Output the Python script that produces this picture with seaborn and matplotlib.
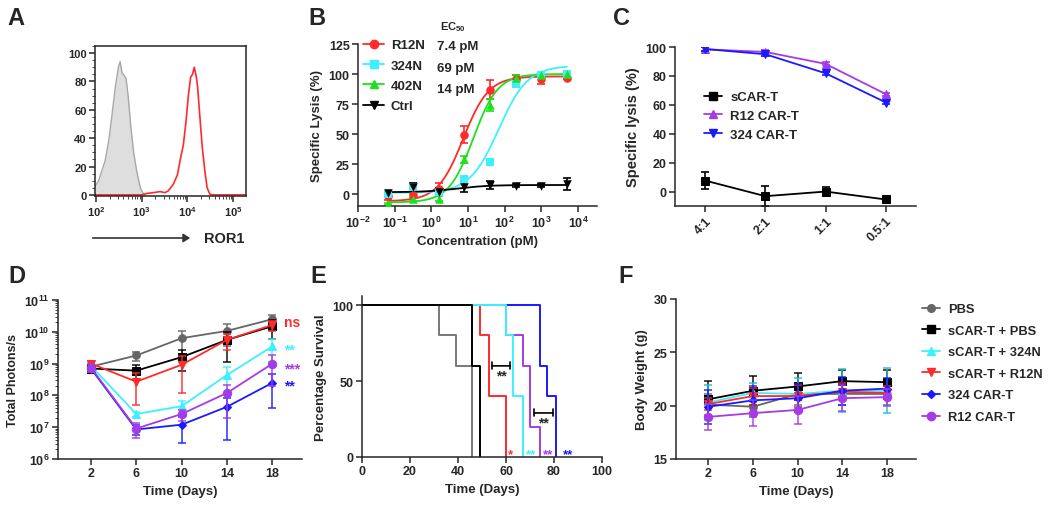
import numpy as np
import pandas as pd
import matplotlib
matplotlib.use('Agg')
import matplotlib.pyplot as plt
import seaborn as sns
from matplotlib.lines import Line2D
from matplotlib.ticker import FuncFormatter, LogLocator, NullFormatter, MultipleLocator

# ---------------- data ----------------
# A: flow histogram (log10 intensity, % of max)
iso_log = [1.98, 2.0, 2.06, 2.13, 2.2, 2.28, 2.35, 2.42, 2.49, 2.53, 2.57, 2.6, 2.66,
           2.71, 2.76, 2.82, 2.89, 2.97, 3.04, 3.08]
iso_pct = [6, 7, 10, 17, 24, 38, 56, 75, 90, 94, 86, 85, 82, 68, 49, 31, 17, 5, 0.5, 0]
ror_log = [1.98, 3.0, 3.11, 3.26, 3.4, 3.51, 3.58, 3.69, 3.78, 3.85, 3.91, 3.97, 4.02,
           4.07, 4.11, 4.15, 4.19, 4.22, 4.27, 4.32, 4.38, 4.43, 4.49, 4.55, 5.28]
ror_pct = [0, 0, 1, 1.6, 2.3, 1.6, 2.8, 7.4, 14, 26, 35, 52, 70, 83, 85, 90, 84, 77,
           56, 35, 17, 5, 0.5, 0, 0]

# B: specific lysis vs concentration
conc = [0.064, 0.32, 1.6, 8, 40, 200, 1000, 5000]
b_names = ['R12N', '324N', '402N', 'Ctrl']
b_ec50_txt = ['7.4 pM', '69 pM', '14 pM', '']
b_vals = [[-2, -1, 4, 49.5, 87, 96, 95.5, 97],
          [0, 6, 2, 12.7, 26.5, 92, 99.5, 100],
          [-8.5, -4.5, -4, 29, 74, 97, 99, 100],
          [1, 6, 2, 6, 7.5, 7, 7, 8.5]]
b_err = [[3, 2, 5, 7, 8, 3, 4, 1],
         [2, 3, 2, 2, 2, 2, 1, 1],
         [1, 1, 2, 3, 5, 2, 1, 1],
         [1, 3, 3, 4, 3, 1, 1, 5]]
# 4PL fit parameters: bottom, top, EC50, hill
b_fit = [(-6, 98, 7.4, 1.25), (1, 107, 69, 1.1), (-7, 100, 14, 1.3), (1.5, 7.5, 5, 1.0)]

# C: lysis vs E:T ratio
ratios = ['4:1', '2:1', '1:1', '0.5:1']
c_names = ['sCAR-T', 'R12 CAR-T', '324 CAR-T']
c_vals = [[7.6, -3.2, 0, -5.5], [98.4, 96.6, 88.3, 67.4], [98.6, 95, 81.8, 61.6]]
c_err = [[5.8, 7, 3, 1], [1.5, 1, 1, 1], [1.5, 1, 1, 1]]

# D/E/F groups
groups = ['PBS', 'sCAR-T + PBS', 'sCAR-T + 324N', 'sCAR-T + R12N', '324 CAR-T', 'R12 CAR-T']
days = [2, 6, 10, 14, 18]
d_vals = [[8e8, 1.8e9, 6.3e9, 1.07e10, 2.5e10],
          [7e8, 6e8, 1.6e9, 5.6e9, 1.5e10],
          [8.5e8, 2.6e7, 4.6e7, 4.4e8, 3.5e9],
          [1e9, 2.7e8, 9.2e8, 5.6e9, 1.65e10],
          [7e8, 8.5e6, 1.2e7, 4.4e7, 2.5e8],
          [7.5e8, 9.1e6, 2.6e7, 1.2e8, 1e9]]
d_err = [[2e8, 6e8, 4.5e9, 7e9, 8e9],
         [2e8, 3e8, 1e9, 4.5e9, 9e9],
         [2e8, 5e6, 2e7, 3.2e8, 2.4e9],
         [2e8, 2.2e8, 8e8, 3e9, 6e9],
         [1.5e8, 3e6, 8.7e6, 4e7, 2.1e8],
         [2e8, 4.5e6, 1e7, 1e8, 8e8]]

# E: survival steps (days, % survival)
e_time = [[0, 32, 39, 46], [0, 46, 49], [0, 60, 63, 67], [0, 49, 53, 60],
          [0, 74, 77, 81], [0, 60, 67, 70, 74]]
e_surv = [[100, 80, 60, 0], [100, 60, 0], [100, 80, 40, 0], [100, 80, 40, 0],
          [100, 60, 40, 0], [100, 80, 60, 20, 0]]
e_star_x = [61.7, 70.5, 77.5, 85.8]
e_star_txt = ['*', '**', '**', '**']
e_brackets = [(54.2, 61.7, 60), (71.8, 79.6, 29)]

# F: body weight
f_vals = [[20.1, 19.9, 21.1, 21.1, 21.1],
          [20.6, 21.4, 21.8, 22.3, 22.2],
          [20.3, 21.2, 21.1, 21.4, 21.4],
          [20.15, 20.9, 20.9, 21.3, 21.2],
          [19.9, 20.5, 20.7, 21.4, 21.6],
          [18.95, 19.3, 19.6, 20.7, 20.8]]
f_err = [[1, 1, 1, 1, 1],
         [1.7, 1.35, 1.3, 1, 1.1],
         [1.6, 0.9, 1.5, 2, 2.1],
         [0.6, 0.8, 1, 0.8, 0.6],
         [1.6, 1.3, 1.3, 1.3, 1],
         [1.25, 1.25, 1.3, 1.2, 0.8]]

# ---------------- style ----------------
sns.set_style('ticks')
plt.rcParams['font.family'] = ['Liberation Sans', 'DejaVu Sans']
plt.rcParams['font.weight'] = 'bold'
plt.rcParams['axes.labelweight'] = 'bold'
plt.rcParams['axes.linewidth'] = 1.1
plt.rcParams['xtick.major.width'] = 1.1
plt.rcParams['ytick.major.width'] = 1.1
plt.rcParams['xtick.labelsize'] = 9
plt.rcParams['ytick.labelsize'] = 9
plt.rcParams['axes.labelsize'] = 9.5
plt.rcParams['mathtext.fontset'] = 'custom'
plt.rcParams['mathtext.rm'] = 'Liberation Sans:bold'
plt.rcParams['mathtext.bf'] = 'Liberation Sans:bold'
plt.rcParams['mathtext.it'] = 'Liberation Sans:bold'

RED = '#ff2a2a'
CYAN = '#3ef0ff'
GREEN = '#1fe01f'
BLUE = '#1a1aff'
PURPLE = '#a43ce6'
GRAY = '#666666'
g_colors = [GRAY, 'black', CYAN, RED, BLUE, PURPLE]
g_markers = ['o', 's', '^', 'v', 'D', 'o']
g_ms = [5.5, 5.5, 5.5, 5.5, 4, 6]

W, H = 1050, 506
fig = plt.figure(figsize=(W / 100, H / 100), dpi=100)


def add_ax(l, t, r, b):
    return fig.add_axes([l / W, 1 - b / H, (r - l) / W, (b - t) / H])


def ftext(x, y, s, **kw):
    fig.text(x / W, 1 - y / H, s, **kw)


def pow_fmt(v, pos):
    return r'$\mathbf{10^{%d}}$' % round(np.log10(v))


def prism(ax):
    sns.despine(ax=ax)
    ax.tick_params(length=4, pad=2)


# ---------------- A ----------------
axA = add_ax(95, 47, 246, 197)
axA.set_xscale('log')
iso = pd.DataFrame({'x': 10 ** np.array(iso_log), 'y': iso_pct})
ror = pd.DataFrame({'x': 10 ** np.array(ror_log), 'y': ror_pct})
axA.fill_between(iso['x'], iso['y'], color='#dedede', lw=0)
sns.lineplot(data=iso, x='x', y='y', color='#a8a8a8', lw=1, ax=axA)
sns.lineplot(data=ror, x='x', y='y', color=RED, lw=1.2, ax=axA)
axA.set_xlim(10 ** 1.98, 10 ** 5.28)
axA.set_ylim(-0.8, 105)
axA.set_yticks(range(0, 101, 20))
axA.yaxis.set_minor_locator(MultipleLocator(5))
axA.xaxis.set_major_locator(LogLocator(base=10, numticks=10))
axA.xaxis.set_minor_locator(LogLocator(base=10, subs=np.arange(2, 10), numticks=10))
axA.xaxis.set_major_formatter(FuncFormatter(pow_fmt))
axA.xaxis.set_minor_formatter(NullFormatter())
axA.set_xlabel('')
axA.set_ylabel('')
axA.tick_params(length=4, pad=2, labelsize=8)
axA.tick_params(which='minor', length=2)
fig.add_artist(matplotlib.patches.FancyArrowPatch(
    (90 / W, 1 - 239 / H), (193 / W, 1 - 239 / H), transform=fig.transFigure,
    arrowstyle='-|>,head_length=4,head_width=2.5', color='#333333', lw=1.2,
    mutation_scale=1))
ftext(204, 239, 'ROR1', fontsize=10.5, va='center', ha='left')

# ---------------- B ----------------
axB = add_ax(358, 45, 597, 207)
axB.set_xscale('log')
b_colors = [RED, CYAN, GREEN, 'black']
b_markers = ['o', 's', '^', 'v']
xs = np.logspace(np.log10(conc[0]), np.log10(conc[-1]), 200)
for name, vals, errs, col, mk, (bot, top, ec, hill) in zip(b_names, b_vals, b_err,
                                                           b_colors, b_markers, b_fit):
    fit = bot + (top - bot) / (1 + (ec / xs) ** hill)
    sns.lineplot(x=xs, y=fit, color=col, lw=1.3, ax=axB)
    axB.errorbar(conc, vals, yerr=errs, fmt='none', ecolor=col, elinewidth=1.2,
                 capsize=3, capthick=1.2)
    sns.scatterplot(x=conc, y=vals, color=col, marker=mk, s=38, edgecolor=col,
                    linewidth=0, ax=axB, zorder=3)
axB.set_xlim(1e-2, 10 ** 4.52)
axB.set_ylim(-10, 125)
axB.set_yticks(range(0, 126, 25))
axB.xaxis.set_major_locator(LogLocator(base=10, numticks=10))
axB.xaxis.set_minor_locator(matplotlib.ticker.NullLocator())
axB.xaxis.set_major_formatter(FuncFormatter(pow_fmt))
axB.set_xlabel('Concentration (pM)')
axB.set_ylabel('Specific Lysis (%)')
prism(axB)
hB = [Line2D([], [], color=c, marker=m, ms=6, lw=1.3) for c, m in zip(b_colors, b_markers)]
fig.legend(hB, b_names, loc='upper left', bbox_to_anchor=(363 / W, 1 - 40 / H),
           frameon=False, fontsize=9.5, handlelength=1.6, handletextpad=0.5,
           labelspacing=0.62, borderpad=0, borderaxespad=0)
for i, t in enumerate(b_ec50_txt):
    ftext(437, 47 + 21.7 * i, t, fontsize=9.5, va='center', ha='left')
ftext(453, 27, r'EC$_{50}$', fontsize=8, va='center', ha='center')

# ---------------- C ----------------
axC = add_ax(675, 48, 916, 207)
c_colors = ['black', PURPLE, BLUE]
c_markers = ['s', '^', 'v']
xc = np.arange(len(ratios))
for name, vals, errs, col, mk in zip(c_names, c_vals, c_err, c_colors, c_markers):
    axC.errorbar(xc, vals, yerr=errs, fmt='none', ecolor=col, elinewidth=1.2,
                 capsize=3, capthick=1.2)
    sns.lineplot(x=xc, y=vals, color=col, marker=mk, ms=6, mec=col, lw=1.3, ax=axC)
axC.set_xlim(-0.5, 3.5)
axC.set_ylim(-10, 100)
axC.set_yticks(range(0, 101, 20))
axC.set_xticks(xc)
axC.set_xticklabels(ratios, rotation=45, ha='right', rotation_mode='anchor')
axC.set_ylabel('Specific lysis (%)', fontsize=10.5)
prism(axC)
hC = [Line2D([], [], color=c, marker=m, ms=6, lw=1.3) for c, m in zip(c_colors, c_markers)]
fig.legend(hC, c_names, loc='upper left', bbox_to_anchor=(704 / W, 1 - 92 / H),
           frameon=False, fontsize=9.5, handlelength=1.4, handletextpad=0.6,
           labelspacing=0.5, borderpad=0, borderaxespad=0)

# ---------------- D ----------------
axD = add_ax(58, 301, 302, 460)
axD.set_yscale('log')
for g, vals, errs, col, mk, ms in zip(groups, d_vals, d_err, g_colors, g_markers, g_ms):
    axD.errorbar(days, vals, yerr=errs, fmt='none', ecolor=col, elinewidth=1.2,
                 capsize=3, capthick=1.2, alpha=0.85)
    sns.lineplot(x=days, y=vals, color=col, marker=mk, ms=ms, mec=col, lw=1.3, ax=axD)
axD.set_ylim(1e6, 1e11)
axD.set_xlim(-0.9, 20.6)
axD.set_xticks(days)
axD.yaxis.set_major_locator(LogLocator(base=10, numticks=10))
axD.yaxis.set_minor_locator(LogLocator(base=10, subs=np.arange(2, 10), numticks=10))
axD.yaxis.set_major_formatter(FuncFormatter(pow_fmt))
axD.yaxis.set_minor_formatter(NullFormatter())
axD.set_xlabel('Time (Days)')
axD.set_ylabel('Total Photons/s', fontsize=9)
prism(axD)
axD.tick_params(which='minor', length=2)
ftext(284, 323, 'ns', color=RED, fontsize=10, va='center', ha='left')
ftext(284, 350, '**', color=CYAN, fontsize=10, va='center', ha='left')
ftext(284, 369, '***', color=PURPLE, fontsize=10, va='center', ha='left')
ftext(284, 386, '**', color=BLUE, fontsize=10, va='center', ha='left')

# ---------------- E ----------------
axE = add_ax(362, 297, 602, 458)
e_order = [4, 5, 3, 2, 0, 1]
for i in e_order:
    col = '#777777' if i == 0 else g_colors[i]
    sns.lineplot(x=e_time[i], y=e_surv[i], drawstyle='steps-post', color=col, lw=1.4,
                 ax=axE)
axE.set_xlim(0, 100)
axE.set_ylim(0, 106)
axE.set_xticks(range(0, 101, 20))
axE.set_yticks([0, 50, 100])
axE.set_xlabel('Time (Days)')
axE.set_ylabel('Percentage Survival')
prism(axE)
for x0, x1, yb in e_brackets:
    axE.annotate('', xy=(x0, yb), xytext=(x1, yb),
                 arrowprops=dict(arrowstyle='|-|,widthA=0.25,widthB=0.25', lw=1.2,
                                 color='black', shrinkA=0, shrinkB=0))
    axE.text((x0 + x1) / 2, yb - 1.5, '**', fontsize=10, ha='center', va='top')
for x, t, col in zip(e_star_x, e_star_txt, [RED, CYAN, PURPLE, BLUE]):
    axE.text(x, 6, t, color=col, fontsize=9.5, ha='center', va='top')

# ---------------- F ----------------
axF = add_ax(676, 300, 916, 460)
for g, vals, errs, col, mk, ms in zip(groups, f_vals, f_err, g_colors, g_markers, g_ms):
    ecol = '#20c0c0' if col == CYAN else col
    axF.errorbar(days, vals, yerr=errs, fmt='none', ecolor=ecol, elinewidth=1.2,
                 capsize=3, capthick=1.2, alpha=0.85)
    sns.lineplot(x=days, y=vals, color=col, marker=mk, ms=ms, mec=col, lw=1.3, ax=axF)
axF.set_ylim(15, 30)
axF.set_xlim(-0.9, 20.6)
axF.set_xticks(days)
axF.set_yticks([15, 20, 25, 30])
axF.set_xlabel('Time (Days)')
axF.set_ylabel('Body Weight (g)')
prism(axF)
hF = [Line2D([], [], color=c, marker=m, ms=ms, lw=1.3)
      for c, m, ms in zip(g_colors, g_markers, g_ms)]
fig.legend(hF, groups, loc='upper left', bbox_to_anchor=(922 / W, 1 - 304 / H),
           frameon=False, fontsize=9.3, handlelength=1.4, handletextpad=0.6,
           labelspacing=0.74, borderpad=0, borderaxespad=0)

for ax in [axB, axC, axD, axE, axF]:
    if ax.get_legend() is not None:
        ax.get_legend().remove()

# panel letters
for letter, x, y in [('A', 7, 25), ('B', 308, 25), ('C', 613, 25),
                     ('D', 8, 283), ('E', 310, 283), ('F', 618, 283)]:
    ftext(x, y, letter, fontsize=17, fontweight='bold', va='baseline', ha='left')

fig.savefig('out.png', dpi=100)
